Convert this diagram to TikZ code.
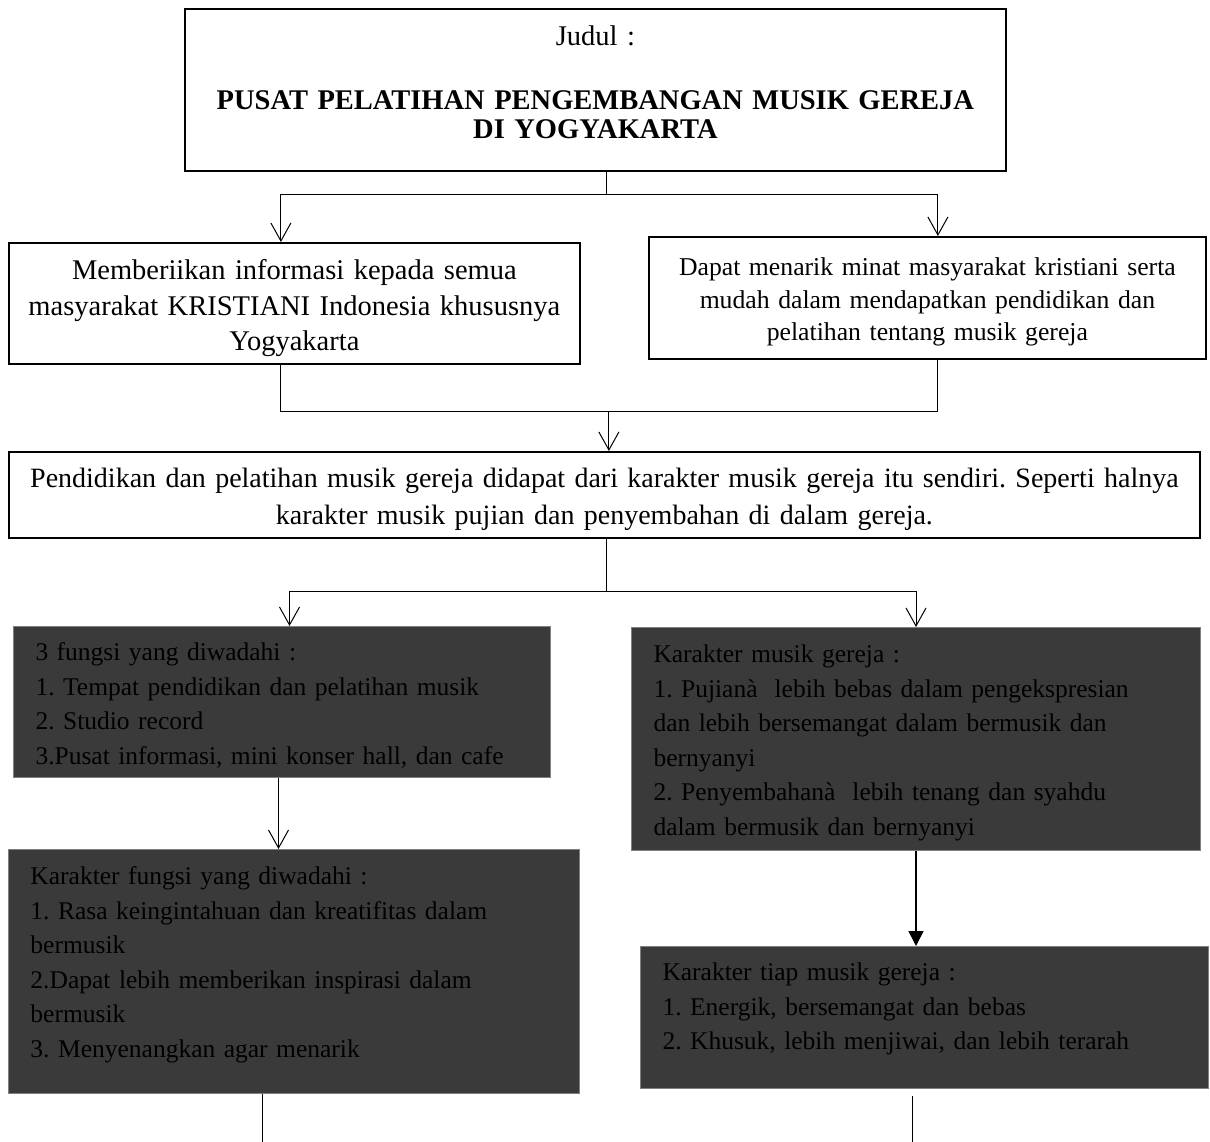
\documentclass[tikz,border=0pt]{standalone}
\usepackage{fontspec}
\setmainfont{Liberation Serif}
\usetikzlibrary{arrows.meta}
\definecolor{darkfill}{RGB}{58,58,58}
\frenchspacing

\begin{document}
\begin{tikzpicture}[
        x=1pt, y=-1pt,
        whitebox/.style={draw, line width=1.8pt, fill=white, align=center, anchor=north west, inner sep=0pt},
        darkbox/.style={draw=black!50, line width=1pt, fill=darkfill, text=black, align=left, anchor=north west,
            inner xsep=22pt, inner ysep=0pt, font=\fontsize{25.5}{34.5}\selectfont},
        link/.style={line width=1pt},
        openarr/.style={link, -{Straight Barb[length=18pt, width=20pt]}},
        fullarr/.style={line width=1.6pt, -{Triangle[length=15pt, width=15pt]}}
    ]
        \useasboundingbox (0,0) rectangle (1210,1142);

        % Title and aims
        \node[whitebox, text width=821pt, text height=37pt, text depth=125pt, font=\fontsize{28.5}{29}\selectfont] (judul) at (184,8)
            {Judul :\\[35pt]\textbf{PUSAT PELATIHAN PENGEMBANGAN MUSIK GEREJA}\\\textbf{DI YOGYAKARTA}};
        \node[whitebox, text width=571pt, text height=37pt, text depth=84pt, font=\fontsize{28.5}{35.5}\selectfont] (informasi) at (8,242)
            {Memberiikan informasi kepada semua\\masyarakat KRISTIANI Indonesia khususnya\\Yogyakarta};
        \node[whitebox, text width=557pt, text height=39pt, text depth=83pt, font=\fontsize{25.7}{32.5}\selectfont] (minat) at (648,236)
            {Dapat menarik minat masyarakat kristiani serta\\mudah dalam mendapatkan pendidikan dan\\pelatihan tentang musik gereja};
        \node[whitebox, text width=1191pt, text height=36pt, text depth=50pt, font=\fontsize{28}{37}\selectfont] (pendidikan) at (8,451)
            {Pendidikan dan pelatihan musik gereja didapat dari karakter musik gereja itu sendiri. Seperti halnya\\karakter musik pujian dan penyembahan di dalam gereja.};

        % Dark boxes
        \node[darkbox, text width=493pt, text height=34pt, text depth=117pt] (fungsi) at (13,626)
            {3 fungsi yang diwadahi :\\1. Tempat pendidikan dan pelatihan musik\\2. Studio record\\3.Pusat informasi, mini konser hall, dan cafe};
        \node[darkbox, text width=525pt, text height=35pt, text depth=188pt] (karakter) at (631,627)
            {Karakter musik gereja :\\1. Pujianà~ lebih bebas dalam pengekspresian\\dan lebih bersemangat dalam bermusik dan\\bernyanyi\\2. Penyembahanà~ lebih tenang dan syahdu\\dalam bermusik dan bernyanyi};
        \node[darkbox, text width=527pt, text height=35pt, text depth=209pt] (wadah) at (8,849)
            {Karakter fungsi yang diwadahi :\\1. Rasa keingintahuan dan kreatifitas dalam\\bermusik\\2.Dapat lebih memberikan inspirasi dalam\\bermusik\\3. Menyenangkan agar menarik};
        \node[darkbox, text width=524pt, text height=34pt, text depth=108pt] (tiap) at (640,946)
            {Karakter tiap musik gereja :\\1. Energik, bersemangat dan bebas\\2. Khusuk, lebih menjiwai, dan lebih terarah};

        % Connectors
        \draw[link] ([xshift=11.5pt]judul.south) -- ++(0,23) coordinate (split1);
        \draw[openarr] (split1) -| ([xshift=-13.5pt]informasi.north);
        \draw[openarr] (split1) -| ([xshift=10.5pt]minat.north);
        \draw[link] ([xshift=-13.5pt]informasi.south) -- ++(0,47) coordinate (join1) -| ([xshift=10.5pt]minat.south);
        \draw[openarr] ([xshift=4.5pt]pendidikan.north |- join1) -- ([xshift=4.5pt]pendidikan.north);
        \draw[link] ([xshift=2.5pt]pendidikan.south) -- ++(0,53) coordinate (split2);
        \draw[openarr] (split2) -| ([xshift=7.5pt]fungsi.north);
        \draw[openarr] (split2) -| (karakter.north);
        \draw[openarr] ([xshift=-3.5pt]fungsi.south) -- ([xshift=-3.5pt]fungsi.south |- wadah.north);
        \draw[fullarr] (karakter.south) -- (karakter.south |- tiap.north);
        \draw[link] ([xshift=-31.5pt]wadah.south) -- ++(0,49);
        \draw[link] ([xshift=-12pt,yshift=-7pt]tiap.south) -- ++(0,47);
    \end{tikzpicture}
\end{document}
